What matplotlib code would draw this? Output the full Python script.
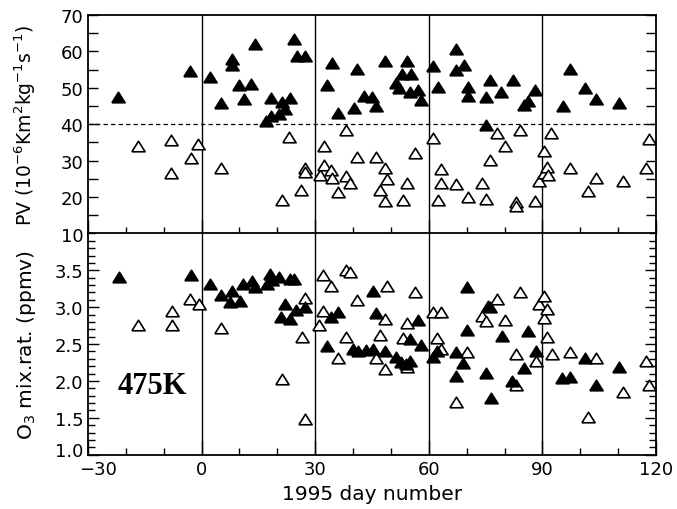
import numpy as np
import matplotlib as mpl
mpl.use("Agg")
import matplotlib.pyplot as plt
import matplotlib.transforms as mtransforms
from matplotlib.ticker import MultipleLocator

# day numbers / PV (top panel), filled = inside vortex, open = outside
top_fill_day = [-22.0, -3.0, 2.1, 5.0, 8.1, 8.1, 10.0, 11.1, 13.1, 14.0,
                17.1, 18.2, 18.2, 20.5, 21.3, 22.1, 23.4, 24.3, 25.2, 27.3,
                33.1, 34.4, 36.0, 40.2, 41.1, 42.9, 45.1, 46.0, 48.3, 51.3,
                52.2, 53.0, 54.2, 55.0, 55.2, 57.2, 58.0, 61.2, 62.3, 67.2,
                67.2, 69.2, 70.3, 70.3, 75.1, 75.1, 76.2, 79.1, 82.2, 85.2,
                86.2, 88.1, 95.4, 97.2, 101.3, 104.2, 110.2]
top_fill_pv = [47.5, 54.5, 53.0, 45.9, 57.8, 56.1, 50.8, 47.0, 50.9, 61.9,
               40.9, 42.3, 47.3, 42.9, 46.0, 44.2, 47.3, 63.5, 58.7, 58.7,
               50.7, 56.7, 43.2, 44.5, 55.2, 47.7, 47.5, 45.0, 57.2, 51.4,
               49.8, 53.7, 57.4, 48.7, 53.7, 49.3, 46.6, 55.9, 50.3, 60.6,
               55.0, 56.2, 50.3, 47.6, 47.4, 39.8, 52.2, 48.8, 52.2, 45.2,
               46.4, 49.3, 44.9, 55.1, 49.9, 47.0, 45.9]

top_open_day = [-16.9, -8.0, -8.0, -2.9, -0.9, 5.1, 21.3, 23.2, 26.3, 27.2,
                27.2, 31.2, 32.2, 32.2, 34.3, 34.5, 36.0, 38.0, 38.0, 39.1,
                41.1, 46.1, 47.1, 48.3, 48.3, 49.0, 53.2, 54.2, 56.4, 61.2,
                62.3, 63.2, 63.2, 67.2, 70.3, 74.1, 75.2, 76.2, 78.0, 80.1,
                83.0, 83.0, 84.1, 88.1, 89.2, 90.3, 90.5, 91.2, 91.5, 92.3,
                97.2, 102.0, 104.2, 111.2, 117.3, 118.2]
top_open_pv = [33.9, 35.8, 26.6, 30.8, 34.7, 28.0, 19.3, 36.4, 22.0, 28.0,
               26.9, 26.0, 33.9, 28.9, 27.5, 25.2, 21.4, 38.4, 25.9, 23.9,
               31.1, 31.1, 22.0, 28.0, 19.0, 24.9, 19.1, 24.0, 32.1, 36.1,
               19.1, 24.0, 27.8, 23.7, 20.0, 24.0, 19.5, 30.2, 37.6, 34.1,
               18.6, 17.6, 38.3, 19.0, 24.3, 32.7, 26.6, 28.2, 26.2, 37.5,
               28.0, 21.8, 25.2, 24.3, 28.0, 36.0]

# day numbers / O3 mixing ratio (bottom panel)
bot_fill_day = [-21.8, -2.8, 2.1, 5.0, 7.6, 8.0, 10.2, 11.0, 13.2, 14.0,
                17.2, 18.1, 18.6, 20.5, 21.0, 22.1, 23.3, 23.4, 24.5, 25.0,
                27.3, 33.2, 34.3, 36.1, 40.0, 41.2, 43.3, 45.3, 45.3, 46.1,
                48.3, 51.3, 52.6, 54.0, 55.1, 55.1, 57.2, 58.0, 61.2, 62.2,
                67.2, 67.2, 69.1, 70.2, 70.2, 75.1, 75.5, 76.3, 79.2, 82.1,
                85.2, 86.1, 88.2, 95.1, 97.2, 101.3, 104.2, 110.2]
bot_fill_o3 = [3.41, 3.44, 3.31, 3.16, 3.07, 3.22, 3.09, 3.32, 3.35, 3.27,
               3.32, 3.45, 3.37, 3.41, 2.87, 3.05, 2.84, 3.38, 3.38, 2.96,
               3.00, 2.47, 2.87, 2.94, 2.44, 2.40, 2.42, 3.22, 2.43, 2.92,
               2.40, 2.32, 2.26, 2.23, 2.27, 2.57, 2.83, 2.49, 2.32, 2.41,
               2.39, 2.07, 2.24, 3.28, 2.69, 2.11, 3.02, 1.77, 2.61, 2.00,
               2.17, 2.68, 2.40, 2.04, 2.05, 2.31, 1.95, 2.19]

bot_open_day = [-16.7, -7.8, -7.8, -3.0, -0.6, 5.0, 21.2, 26.5, 27.2, 27.2,
                31.1, 32.1, 32.1, 34.2, 36.0, 38.0, 38.0, 39.1, 41.1, 46.1,
                47.1, 48.3, 48.3, 49.0, 53.1, 54.2, 54.2, 56.4, 61.2, 62.2,
                63.2, 63.3, 67.2, 70.2, 74.1, 75.2, 76.2, 78.0, 80.0, 83.0,
                83.0, 84.2, 88.2, 89.2, 90.3, 90.3, 91.3, 91.2, 92.5, 97.2,
                102.1, 104.2, 111.2, 117.3, 118.2]
bot_open_o3 = [2.76, 2.95, 2.76, 3.11, 3.04, 2.72, 2.03, 2.60, 3.13, 1.49,
               2.76, 3.44, 2.95, 3.29, 2.31, 3.50, 2.60, 3.48, 3.10, 2.31,
               2.63, 2.84, 2.16, 3.29, 2.58, 2.79, 2.19, 3.20, 2.94, 2.58,
               2.93, 2.43, 1.71, 2.39, 2.88, 2.81, 3.00, 3.11, 2.82, 2.36,
               1.95, 3.21, 2.27, 3.05, 3.15, 2.86, 2.97, 2.60, 2.36, 2.39,
               1.51, 2.31, 1.85, 2.27, 1.94]

day_ticks = [-30, 0, 30, 60, 90, 120]
day_ticklabels = ["\u221230", "0", "30", "60", "90", "120"]
o3_ticks = [1.0, 1.5, 2.0, 2.5, 3.0, 3.5]
o3_ticklabels = ["1.0", "1.5", "2.0", "2.5", "3.0", "3.5"]
month_lines = [0, 30, 60, 90]
pv_threshold = 40
theta_label = "475K"

# triangle marker with a symmetric bounding box
TRI = [(-1, -0.8), (1, -0.8), (0, 0.8), (-1, -0.8)]


def main():
    plt.rcParams['font.family'] = ['DejaVu Sans']
    plt.rcParams['axes.linewidth'] = 1.3

    f1 = plt.figure(figsize=(6.77, 5.10), dpi=100)
    ax_pv = f1.add_axes([0.130, 0.540, 0.839, 0.429])
    ax_o3 = f1.add_axes([0.130, 0.1065, 0.839, 0.4337])

    # --- PV panel
    plot_panel(ax_pv, top_fill_day, top_fill_pv, top_open_day, top_open_pv)
    ax_pv.axhline(pv_threshold, color='k', lw=0.9, ls=(0, (3.5, 2.5)), zorder=1)
    ax_pv.set_ylim(10, 70)
    ax_pv.yaxis.set_major_locator(MultipleLocator(10))
    ax_pv.yaxis.set_minor_locator(MultipleLocator(5))
    ax_pv.set_ylabel("PV (10$^{-6}$Km$^2$kg$^{-1}$s$^{-1}$)", fontsize=13.5)
    ax_pv.yaxis.set_label_coords(-0.088, 0.5)
    ax_pv.tick_params(axis='y', which='both', length=7)

    # --- O3 panel
    plot_panel(ax_o3, bot_fill_day, bot_fill_o3, bot_open_day, bot_open_o3)
    ax_o3.set_ylim(1.0, 4.0)
    ax_o3.set_yticks(o3_ticks)
    ax_o3.set_yticklabels(o3_ticklabels)
    ax_o3.yaxis.set_minor_locator(MultipleLocator(0.1))
    ax_o3.tick_params(axis='y', which='major', length=8)
    ax_o3.tick_params(axis='y', which='minor', length=5)
    ax_o3.set_ylabel("O$_3$ mix.rat. (ppmv)", fontsize=14.5)
    ax_o3.yaxis.set_label_coords(-0.088, 0.5)
    ax_o3.text(-22.3, 1.83, theta_label, fontsize=22, fontweight='bold',
               family='Liberation Serif')

    for ax in (ax_pv, ax_o3):
        ax.set_xlim(-30, 120)
        ax.set_xticks(day_ticks)
        ax.xaxis.set_minor_locator(MultipleLocator(10))
        ax.tick_params(direction='in', which='both', top=False, right=True,
                       labelsize=13, width=1.0)
        ax.tick_params(axis='x', which='major', length=10, pad=4)
        ax.tick_params(axis='x', which='minor', length=5)

    ax_pv.set_xticklabels([])
    ax_o3.set_xticklabels(day_ticklabels)
    ax_o3.set_xlabel("1995 day number", fontsize=14.5, labelpad=4)

    # nudge the two corner labels apart, as in the original
    f1.canvas.draw()
    shift_right = mtransforms.ScaledTranslation(7 / 72, 0, f1.dpi_scale_trans)
    shift_up = mtransforms.ScaledTranslation(0, 4 / 72, f1.dpi_scale_trans)
    lab_x = ax_o3.get_xticklabels()[0]
    lab_x.set_transform(lab_x.get_transform() + shift_right)
    lab_y = ax_o3.get_yticklabels()[0]
    lab_y.set_transform(lab_y.get_transform() + shift_up)

    f1.savefig("out.png", dpi=100)
    plt.close()


def plot_panel(ax, fill_x, fill_y, open_x, open_y):
    for day in month_lines:
        ax.axvline(day, color='k', lw=1.0, zorder=1)
    ax.plot(open_x, open_y, ls='none', marker=TRI, markersize=9.5,
            mfc='white', mec='k', mew=1.2, zorder=2)
    ax.plot(fill_x, fill_y, ls='none', marker=TRI, markersize=9.5,
            mfc='k', mec='k', mew=1.2, zorder=3)


if __name__ == "__main__":
    main()
